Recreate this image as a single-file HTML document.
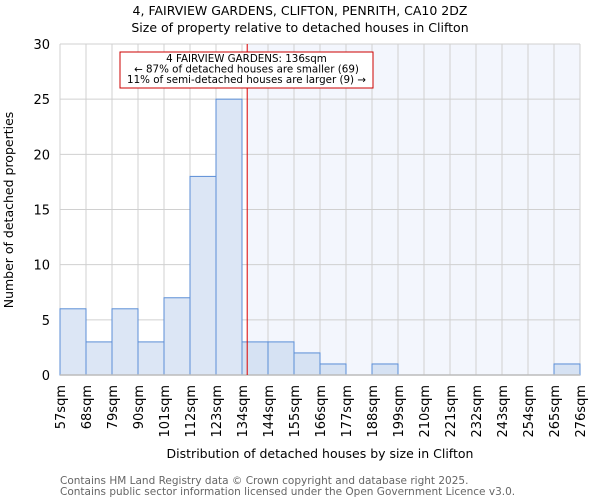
<!DOCTYPE html>
<html><head><meta charset="utf-8"><style>
body{margin:0;background:#fff;font-family:"DejaVu Sans","Liberation Sans",sans-serif}
</style></head><body>
<svg id="chart" width="600" height="500" xmlns="http://www.w3.org/2000/svg" font-family="DejaVu Sans, Liberation Sans, sans-serif">
<text x="300" y="15" text-anchor="middle" font-size="12.5">4, FAIRVIEW GARDENS, CLIFTON, PENRITH, CA10 2DZ</text>
<text x="300" y="32" text-anchor="middle" font-size="12.5">Size of property relative to detached houses in Clifton</text>
<g id="plot"></g>
<text x="320" y="458" text-anchor="middle" font-size="12.5">Distribution of detached houses by size in Clifton</text>
<text transform="translate(13,210) rotate(-90)" text-anchor="middle" font-size="12.5">Number of detached properties</text>
<text x="60" y="484" font-size="10.5" fill="#666">Contains HM Land Registry data © Crown copyright and database right 2025.</text>
<text x="60" y="495" font-size="10.5" fill="#666">Contains public sector information licensed under the Open Government Licence v3.0.</text>
</svg>
<script>
const binEdges=[57,68,79,90,101,112,123,134,144,155,166,177,188,199,210,221,232,243,254,265,276];
const counts=[6,3,6,3,7,18,25,3,3,2,1,0,1,0,0,0,0,0,0,1];
const yTicks=[0,5,10,15,20,25,30];
const marker=136;
const NS="http://www.w3.org/2000/svg";
const L=60,R=580,T=44,B=375,yMax=30;
const n=counts.length;
const xi=i=>L+(R-L)*i/n;
const xv=v=>{let i=0;while(i<n-1&&v>binEdges[i+1])i++;return xi(i)+(v-binEdges[i])/(binEdges[i+1]-binEdges[i])*(R-L)/n;};
const y=v=>B-(B-T)*v/yMax;
const g=document.getElementById('plot');
function mk(t,a){const e=document.createElementNS(NS,t);for(const k in a)e.setAttribute(k,a[k]);g.appendChild(e);return e;}
const mx=xv(marker);
let e=mk('rect',{x:mx,y:T,width:R-mx,height:B-T,fill:'#f3f6fd'});


yTicks.forEach(t=>{const l=mk('line',{x1:L,x2:R,y1:y(t),y2:y(t),stroke:'#d0d0d0','stroke-width':1});


const tx=mk('text',{x:L-10,y:y(t)+5,'text-anchor':'end','font-size':13});tx.textContent=t;

});
binEdges.forEach((b,i)=>{const l=mk('line',{x1:xi(i),x2:xi(i),y1:T,y2:B,stroke:'#d0d0d0','stroke-width':1});


const tx=mk('text',{transform:`translate(${xi(i)+5},385) rotate(-90)`,'text-anchor':'end','font-size':13});tx.textContent=b+'sqm';

});
counts.forEach((c,i)=>{if(c<=0)return;const r=mk('rect',{x:xi(i),y:y(c),width:(R-L)/n,height:B-y(c),fill:i>=7?'#d6e2f3':'#dce6f5',stroke:'#5b8ed6','stroke-width':1});

});
e=mk('line',{x1:L,x2:R,y1:B,y2:B,stroke:'#bbb','stroke-width':1.5});


e=mk('line',{x1:mx,x2:mx,y1:T,y2:B,stroke:'#dd0000','stroke-width':1});


e=mk('rect',{x:120,y:52,width:253,height:36,fill:'#fff',stroke:'#cc0000','stroke-width':1});


['4 FAIRVIEW GARDENS: 136sqm','← 87% of detached houses are smaller (69)','11% of semi-detached houses are larger (9) →'].forEach((s,k)=>{const t=mk('text',{x:246.5,y:62+k*10.5,'text-anchor':'middle','font-size':10.3});t.textContent=s;

});
</script>
</body></html>
